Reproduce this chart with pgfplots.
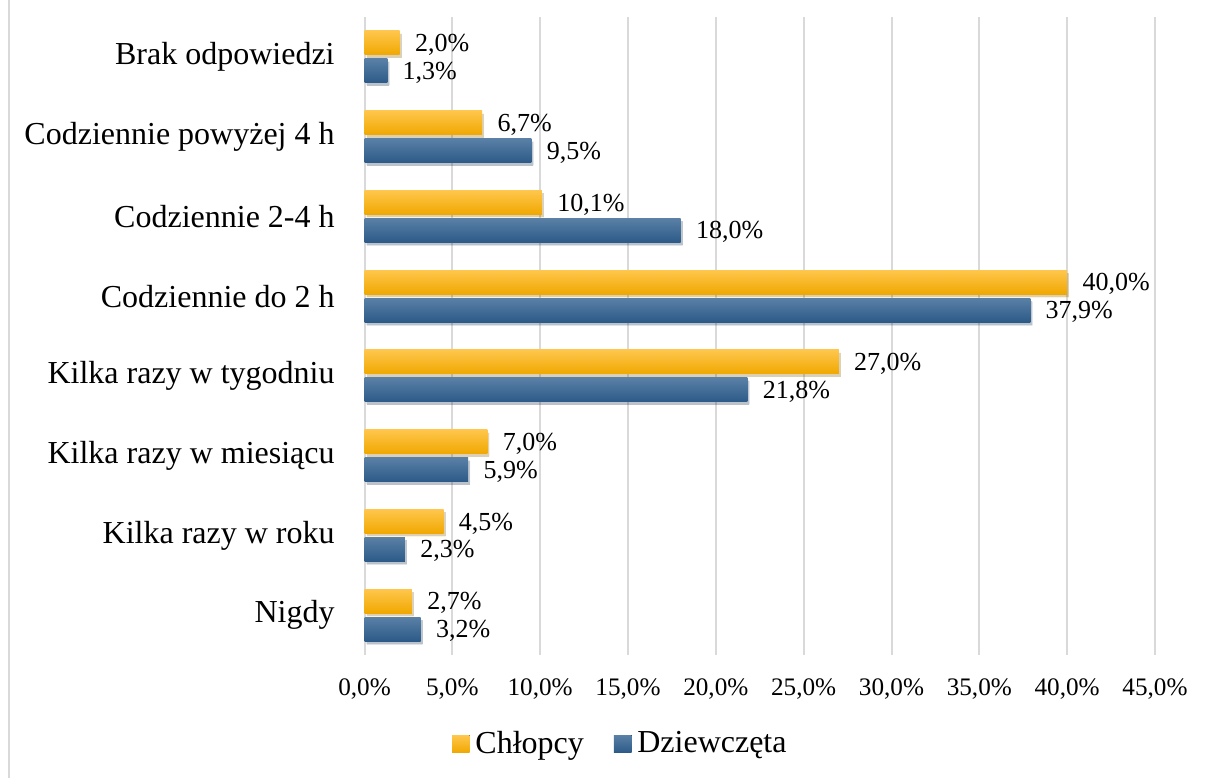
\documentclass[border=0pt]{standalone}
\usepackage{pgfplots}
\pgfplotsset{compat=1.18}
\usepackage{fontspec}
\setmainfont{Liberation Serif}
\definecolor{orT}{RGB}{255,198,76}
\definecolor{orB}{RGB}{240,168,0}
\definecolor{blT}{RGB}{90,128,166}
\definecolor{blB}{RGB}{44,90,136}
\definecolor{gridc}{RGB}{217,217,217}
\pgfplotsset{
  orbar/.style={draw=none, top color=orT, bottom color=orB, bar shift=0.175, forget plot,
    preaction={fill=black, fill opacity=0.16, transform canvas={xshift=1pt, yshift=-1.5pt}}},
  blbar/.style={draw=none, top color=blT, bottom color=blB, bar shift=-0.175, forget plot,
    preaction={fill=black, fill opacity=0.16, transform canvas={xshift=1pt, yshift=-1.5pt}}},
}
\begin{document}
\begin{tikzpicture}
\useasboundingbox (0,0) rectangle (607pt,389pt);
\draw[gridc, line width=1pt] (4.5pt,0) -- (4.5pt,389pt);
\begin{axis}[
  at={(182.25pt,61.5pt)}, anchor=south west,
  scale only axis, width=395.25pt, height=319pt,
  xbar, bar width=0.3,
  xmin=0, xmax=45, ymin=-0.5, ymax=7.5,
  axis line style={draw=none},
  major tick length=0pt,
  xtick={0,5,...,45},
  xmajorgrids, major grid style={gridc, line width=1pt},
  ytick={0,...,7},
  yticklabels={Nigdy\hspace{4pt}, Kilka razy w roku, Kilka razy w miesiącu, Kilka razy w tygodniu, Codziennie do 2 h, Codziennie 2-4 h, Codziennie powyżej 4 h, Brak odpowiedzi},
  yticklabel style={font=\fontsize{16pt}{19pt}\selectfont, anchor=east, inner sep=0pt, xshift=-14.75pt},
  xticklabel={\pgfmathprintnumber[fixed,fixed zerofill,precision=1,use comma,assume math mode=true]{\tick}\%},
  xticklabel style={font=\fontsize{12.6pt}{15pt}\selectfont, anchor=base, inner sep=0pt, yshift=-20.2pt},
  nodes near coords={\pgfmathprintnumber[fixed,fixed zerofill,precision=1,use comma,assume math mode=true]{\pgfplotspointmeta}\%},
  nodes near coords style={font=\fontsize{13pt}{15pt}\selectfont, anchor=west, inner sep=0pt, xshift=7.5pt, yshift=-1pt, text=black},
  legend columns=2,
  legend style={at={(rel axis cs:0.1103,-0.139)}, anchor=west, draw=none, fill=none, inner sep=0pt,
    nodes={inner sep=0pt, font=\fontsize{16pt}{19pt}\selectfont},
    /tikz/every even column/.append style={column sep=15pt}},
]
% Chłopcy
\addplot[orbar] coordinates {(2.7,0)};
\addplot[orbar] coordinates {(4.5,1)};
\addplot[orbar] coordinates {(7.0,2)};
\addplot[orbar] coordinates {(27.0,3)};
\addplot[orbar] coordinates {(40.0,4)};
\addplot[orbar] coordinates {(10.1,5)};
\addplot[orbar] coordinates {(6.7,6)};
\addplot[orbar] coordinates {(2.0,7)};
% Dziewczęta
\addplot[blbar] coordinates {(3.2,0)};
\addplot[blbar] coordinates {(2.3,1)};
\addplot[blbar] coordinates {(5.9,2)};
\addplot[blbar] coordinates {(21.8,3)};
\addplot[blbar] coordinates {(37.9,4)};
\addplot[blbar] coordinates {(18.0,5)};
\addplot[blbar] coordinates {(9.5,6)};
\addplot[blbar] coordinates {(1.3,7)};
\addlegendimage{legend image code/.code={\fill[draw=none, top color=orT, bottom color=orB] (0pt,-4.4pt) rectangle (8.8pt,4.2pt); \path[draw=none, fill=none] (0pt,0pt) -- (11.7pt,0pt);}}
\addlegendentry{Chłopcy}
\addlegendimage{legend image code/.code={\fill[draw=none, top color=blT, bottom color=blB] (0pt,-4.4pt) rectangle (8.8pt,4.2pt); \path[draw=none, fill=none] (0pt,0pt) -- (11.7pt,0pt);}}
\addlegendentry{Dziewczęta}
\end{axis}
\end{tikzpicture}
\end{document}
